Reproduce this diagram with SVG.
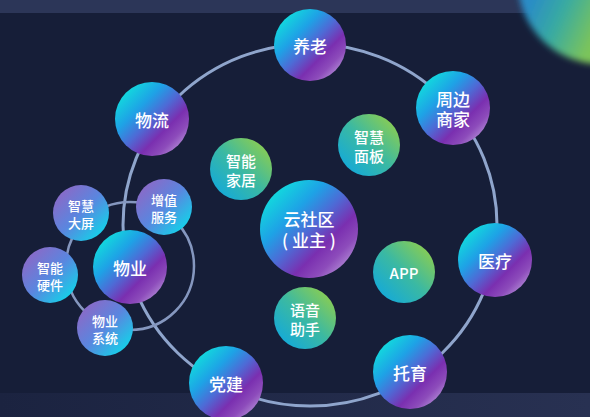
<svg xmlns="http://www.w3.org/2000/svg" width="590" height="417" viewBox="0 0 590 417">
  <defs>
    <linearGradient id="gOuter" x1="0.1" y1="0.1" x2="0.9" y2="0.9">
      <stop offset="0" stop-color="#10e2dc"/>
      <stop offset="0.3" stop-color="#1ea2e6"/>
      <stop offset="0.5" stop-color="#4d6bd6"/>
      <stop offset="0.7" stop-color="#7a2fb0"/>
      <stop offset="0.85" stop-color="#8d4cbb"/>
      <stop offset="1" stop-color="#b590d8"/>
    </linearGradient>
    <linearGradient id="gSmall" x1="0.1" y1="0.1" x2="0.9" y2="0.9">
      <stop offset="0" stop-color="#8d68c6"/>
      <stop offset="0.5" stop-color="#5a86df"/>
      <stop offset="1" stop-color="#10d6ea"/>
    </linearGradient>
    <linearGradient id="gGreen" x1="0.1" y1="0.9" x2="0.9" y2="0.1">
      <stop offset="0" stop-color="#13a9da"/>
      <stop offset="0.5" stop-color="#3bb9a2"/>
      <stop offset="1" stop-color="#8ccd50"/>
    </linearGradient>
    <linearGradient id="gBlob" gradientUnits="userSpaceOnUse" x1="522" y1="20" x2="588" y2="50">
      <stop offset="0" stop-color="#2a8cc6"/>
      <stop offset="0.45" stop-color="#38aaa2"/>
      <stop offset="1" stop-color="#7cc45a"/>
    </linearGradient>
    <linearGradient id="gBottom" x1="0" y1="0" x2="1" y2="0">
      <stop offset="0" stop-color="#1b2340"/>
      <stop offset="1" stop-color="#283152"/>
    </linearGradient>
    <filter id="blur" x="-20%" y="-20%" width="140%" height="140%">
      <feGaussianBlur stdDeviation="3"/>
    </filter>
    <style>
      .t { font-family: "Noto Sans CJK SC", "Noto Sans", sans-serif; font-weight: 500; fill: #ffffff; text-anchor: middle; dominant-baseline: central; }
      .big { font-size: 17px; }
      .mid { font-size: 15px; }
      .sm { font-size: 13px; }
      .ring { fill: none; stroke: #8fa5cc; stroke-width: 3; }
      .ring2 { fill: none; stroke: #8597bf; stroke-width: 2.5; }
    </style>
  </defs>

  <!-- background -->
  <rect x="0" y="0" width="590" height="417" fill="#161e38"/>
  <rect x="0" y="0" width="590" height="13" fill="#2c3658"/>
  <rect x="0" y="393" width="590" height="24" fill="url(#gBottom)"/>
  <circle cx="600" cy="-18" r="82" fill="url(#gBlob)" filter="url(#blur)"/>

  <g id="connectors">
    <ellipse class="ring" cx="310" cy="225" rx="187" ry="181"/>
    <circle class="ring2" cx="130" cy="266" r="64"/>
  </g>

  <g id="n-yanglao">
    <circle cx="310" cy="45" r="36" fill="url(#gOuter)"/>
    <text class="t big" x="310" y="45">养老</text>
  </g>
  <g id="n-zhoubian">
    <circle cx="453" cy="108" r="37" fill="url(#gOuter)"/>
    <text class="t big" x="453" y="98">周边</text>
    <text class="t big" x="453" y="118">商家</text>
  </g>
  <g id="n-yiliao">
    <circle cx="495" cy="260" r="37" fill="url(#gOuter)"/>
    <text class="t big" x="495" y="260">医疗</text>
  </g>
  <g id="n-tuoyu">
    <circle cx="410" cy="372" r="37" fill="url(#gOuter)"/>
    <text class="t big" x="410" y="372">托育</text>
  </g>
  <g id="n-dangjian">
    <circle cx="226" cy="383" r="37" fill="url(#gOuter)"/>
    <text class="t big" x="226" y="383">党建</text>
  </g>
  <g id="n-wuliu">
    <circle cx="152" cy="119" r="37" fill="url(#gOuter)"/>
    <text class="t big" x="152" y="119">物流</text>
  </g>
  <g id="n-yunshequ">
    <circle cx="309" cy="229" r="49" fill="url(#gOuter)"/>
    <text class="t big" x="309" y="218">云社区</text>
    <text class="t big" x="309" y="239">( 业主 )</text>
  </g>
  <g id="n-zhinengjiaju">
    <circle cx="241" cy="169" r="31" fill="url(#gGreen)"/>
    <text class="t mid" x="241" y="160">智能</text>
    <text class="t mid" x="241" y="179">家居</text>
  </g>
  <g id="n-zhihuimianban">
    <circle cx="369" cy="145" r="31" fill="url(#gGreen)"/>
    <text class="t mid" x="369" y="136">智慧</text>
    <text class="t mid" x="369" y="155">面板</text>
  </g>
  <g id="n-app">
    <circle cx="404" cy="272" r="31" fill="url(#gGreen)"/>
    <text class="t mid" x="404" y="272">APP</text>
  </g>
  <g id="n-yuyinzhushou">
    <circle cx="305" cy="318" r="31" fill="url(#gGreen)"/>
    <text class="t mid" x="305" y="309">语音</text>
    <text class="t mid" x="305" y="328">助手</text>
  </g>
  <g id="n-wuye">
    <circle cx="130" cy="267" r="37" fill="url(#gOuter)"/>
    <text class="t big" x="130" y="267">物业</text>
  </g>
  <g id="n-zengzhi">
    <circle cx="164" cy="207" r="28" fill="url(#gSmall)"/>
    <text class="t sm" x="164" y="199">增值</text>
    <text class="t sm" x="164" y="216">服务</text>
  </g>
  <g id="n-daping">
    <circle cx="81" cy="213" r="28" fill="url(#gSmall)"/>
    <text class="t sm" x="81" y="205">智慧</text>
    <text class="t sm" x="81" y="222">大屏</text>
  </g>
  <g id="n-yingjian">
    <circle cx="50" cy="275" r="28" fill="url(#gSmall)"/>
    <text class="t sm" x="50" y="267">智能</text>
    <text class="t sm" x="50" y="284">硬件</text>
  </g>
  <g id="n-xitong">
    <circle cx="105" cy="328" r="28" fill="url(#gSmall)"/>
    <text class="t sm" x="105" y="320">物业</text>
    <text class="t sm" x="105" y="337">系统</text>
  </g>
</svg>
